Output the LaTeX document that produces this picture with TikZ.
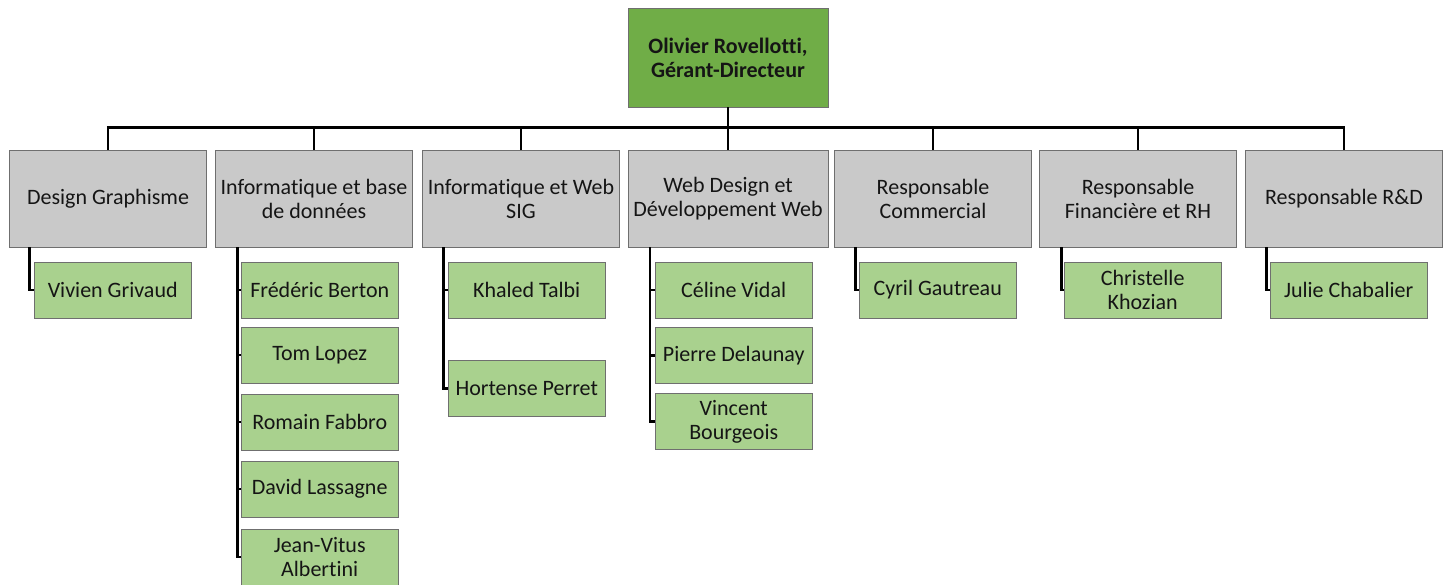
\documentclass[tikz,border=0pt]{standalone}
\usepackage{fontspec}
\setmainfont{Carlito}[Ligatures={NoCommon}]
\usetikzlibrary{positioning}
\definecolor{dirgreen}{HTML}{70AD47}
\definecolor{headgrey}{HTML}{C9C9C9}
\definecolor{staffgreen}{HTML}{A9D18E}
\definecolor{boxline}{HTML}{6F6F6F}
\definecolor{inkgrey}{HTML}{151515}
\tikzset{
  boxfont/.style={font=\fontsize{22}{24}\selectfont, text=inkgrey, align=center, inner sep=2pt},
  dirbox/.style={boxfont, draw=boxline, fill=dirgreen, minimum width=200pt, minimum height=99pt, font=\bfseries\fontsize{22}{24}\selectfont},
  headbox/.style={boxfont, draw=boxline, fill=headgrey, minimum width=197pt, minimum height=97pt},
  staffbox/.style={boxfont, draw=boxline, fill=staffgreen, minimum width=157pt, minimum height=56pt, anchor=west},
  link/.style={line width=2.5pt},
}
\begin{document}
\begin{tikzpicture}[x=1pt, y=-1pt]
\useasboundingbox (0,0) rectangle (1451,584);
%
\node[dirbox] (dir) at (728,57.5) {Olivier Rovellotti,\\ Gérant-Directeur};
%
\node[headbox] (dg)   at (108,198.5)  {Design Graphisme};
\node[headbox] (info) at (314,198.5)  {Informatique et base\\ de données};
\node[headbox] (web)  at (521,198.5)  {Informatique et Web\\ SIG};
\node[headbox, minimum width=200pt] (wd) at (728,198.5) {Web Design et\\ Développement Web};
\node[headbox] (com)  at (933,198.5)  {Responsable\\ Commercial};
\node[headbox] (fin)  at (1138,198.5) {Responsable\\ Financière et RH};
\node[headbox] (rd)   at (1344,198.5) {Responsable R\&D};
%
\coordinate (bus) at (0,127);
\draw[line width=3pt] ([xshift=-1.25pt]dg.north |- bus) -- ([xshift=1.25pt]rd.north |- bus);
\draw[link] (dir.south) -- (dir.south |- bus);
\foreach \h in {dg,info,web,wd,com,fin,rd}
  \draw[link] (\h.north |- bus) -- (\h.north);
%
\node[staffbox] (vivien) at (34,290) {Vivien Grivaud};
%
\node[staffbox] (frederic) at (241,290)   {Frédéric Berton};
\node[staffbox] (tom)      at (241,355)   {Tom Lopez};
\node[staffbox] (romain)   at (241,422)   {Romain Fabbro};
\node[staffbox] (david)    at (241,489)   {David Lassagne};
\node[staffbox] (jean)     at (241,557)   {Jean-Vitus\\ Albertini};
%
\node[staffbox] (khaled)   at (448,290)   {Khaled Talbi};
\node[staffbox] (hortense) at (448,388.5) {Hortense Perret};
%
\node[staffbox] (celine)   at (655,290)   {Céline Vidal};
\node[staffbox] (pierre)   at (655,355.5) {Pierre Delaunay};
\node[staffbox] (vincent)  at (655,421.5) {Vincent\\ Bourgeois};
%
\node[staffbox] (cyril)    at (859,290)   {Cyril Gautreau};
\node[staffbox] (christelle) at (1064,290) {Christelle\\ Khozian};
\node[staffbox] (julie)    at (1270,290)  {Julie Chabalier};
%
\draw[link] ([xshift=20pt]dg.south west) |- (vivien.west);
\foreach \s in {frederic,tom,romain,david,jean}
  \draw[link] ([xshift=22pt]info.south west) |- (\s.west);
\foreach \s in {khaled,hortense}
  \draw[link] ([xshift=21pt]web.south west) |- (\s.west);
\foreach \s in {celine,pierre,vincent}
  \draw[link] ([xshift=22pt]wd.south west) |- (\s.west);
\draw[link] ([xshift=21pt]com.south west) |- (cyril.west);
\draw[link] ([xshift=22pt]fin.south west) |- (christelle.west);
\draw[link] ([xshift=21pt]rd.south west) |- (julie.west);
%
\end{tikzpicture}
\end{document}
